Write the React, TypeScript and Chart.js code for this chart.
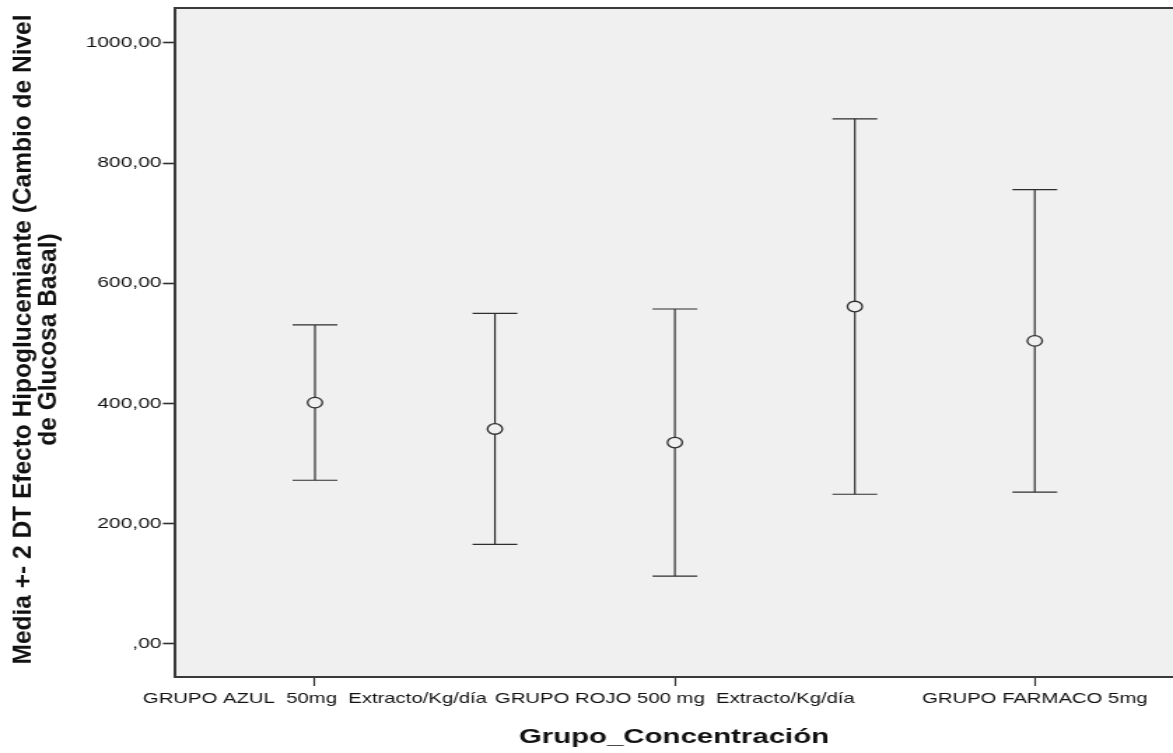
import React, { useEffect, useRef } from 'react';
import { Chart, registerables } from 'chart.js';

Chart.register(...registerables);

// ---- data ----
const categories = [
  'GRUPO AZUL  50mg  Extracto/Kg/día',
  'GRUPO VERDE 250 mg  Extracto/Kg/día',
  'GRUPO ROJO 500 mg  Extracto/Kg/día',
  'GRUPO AMARILLO 1000 mg  Extracto/Kg/día',
  'GRUPO FARMACO 5mg',
];
const shownCategoryIndexes = [0, 2, 4];
const means = [401.5, 357.7, 335.0, 561.3, 504.2];
const twoSD = [129.2, 192.2, 222.2, 312.3, 251.5];
const yTickValues = [0, 200, 400, 600, 800, 1000];
const yTitleLines = ['Media +- 2 DT Efecto Hipoglucemiante (Cambio de Nivel', 'de Glucosa Basal)'];
const xTitle = 'Grupo_Concentración';

// ---- layout ----
const W = 1173;
const H = 753;
const STRETCH = 1.4;
const IW = Math.round(W / STRETCH);
const FONT = '"Liberation Sans", Arial, sans-serif';
const PLOT_BG = '#f0f0f0';
const INK = '#2e2e2e';

const framePlugin = {
  id: 'spssFrame',
  beforeDraw(chart: any) {
    const { ctx, chartArea: a } = chart;
    ctx.save();
    ctx.fillStyle = PLOT_BG;
    ctx.fillRect(a.left, a.top, a.right - a.left, a.bottom - a.top);
    ctx.restore();
  },
  beforeDatasetsDraw(chart: any) {
    const { ctx } = chart;
    const xs = chart.scales.x;
    const ys = chart.scales.y;
    ctx.save();
    ctx.strokeStyle = INK;
    ctx.lineWidth = 1.2;
    const cap = 16;
    means.forEach((m, i) => {
      const x = xs.getPixelForValue(i + 1);
      const yt = ys.getPixelForValue(m + twoSD[i]);
      const yb = ys.getPixelForValue(m - twoSD[i]);
      ctx.beginPath();
      ctx.moveTo(x, yt);
      ctx.lineTo(x, yb);
      ctx.stroke();
      ctx.beginPath();
      ctx.moveTo(x - cap, yt);
      ctx.lineTo(x + cap, yt);
      ctx.moveTo(x - cap, yb);
      ctx.lineTo(x + cap, yb);
      ctx.stroke();
    });
    ctx.restore();
  },
  afterDraw(chart: any) {
    const { ctx, chartArea: a } = chart;
    ctx.save();
    ctx.strokeStyle = '#3a3a3a';
    ctx.lineWidth = 2;
    ctx.beginPath();
    ctx.moveTo(a.left - 1, a.top);
    ctx.lineTo(a.right, a.top);
    ctx.stroke();
    // rotated y title (kept undistorted by the horizontal stretch)
    const cy = (a.top + a.bottom) / 2 - 3;
    ctx.translate(17.1, cy);
    ctx.rotate(-Math.PI / 2);
    ctx.scale(1, 1 / STRETCH);
    ctx.fillStyle = '#111';
    ctx.font = `bold 24.5px ${FONT}`;
    ctx.textAlign = 'center';
    ctx.textBaseline = 'middle';
    yTitleLines.forEach((line, i) => ctx.fillText(line, 0, i * 26));
    ctx.restore();
  },
};

export default function App() {
  const ref = useRef<HTMLCanvasElement | null>(null);

  useEffect(() => {
    if (!ref.current) return;
    const chart = new Chart(ref.current, {
      type: 'scatter',
      data: {
        datasets: [
          {
            data: means.map((m, i) => ({ x: i + 1, y: m })),
            pointStyle: 'circle',
            pointRadius: 5.3,
            pointHoverRadius: 5.3,
            borderColor: INK,
            borderWidth: 1.3,
            backgroundColor: PLOT_BG,
            showLine: false,
          },
        ],
      },
      options: {
        responsive: false,
        maintainAspectRatio: false,
        animation: false,
        devicePixelRatio: 1,
        events: [],
        layout: { autoPadding: false, padding: { top: 8, left: 0, right: 0, bottom: 0 } },
        plugins: { legend: { display: false }, tooltip: { enabled: false } },
        scales: {
          x: {
            type: 'linear',
            min: 0.2222,
            max: 5.768,
            afterBuildTicks: (s: any) => {
              s.ticks = shownCategoryIndexes.map((i) => ({ value: i + 1 }));
            },
            afterFit: (s: any) => {
              s.height = H - 677;
              s.paddingLeft = 0;
              s.paddingRight = 0;
            },
            ticks: {
              autoSkip: false,
              maxRotation: 0,
              minRotation: 0,
              padding: 4,
              color: '#111',
              font: { family: FONT, size: 14.5 },
              callback: (v: any) => categories[Math.round(Number(v)) - 1] ?? '',
            },
            grid: {
              display: true,
              drawOnChartArea: false,
              drawTicks: true,
              tickLength: 9,
              tickColor: INK,
              tickWidth: 1.2,
            },
            border: { display: true, color: '#3a3a3a', width: 2 },
            title: {
              display: true,
              text: xTitle,
              color: '#111',
              font: { family: FONT, size: 21, weight: 'bold' },
              padding: { top: 0, bottom: 3 },
            },
          },
          y: {
            type: 'linear',
            min: -55,
            max: 1058,
            afterBuildTicks: (s: any) => {
              s.ticks = yTickValues.map((v) => ({ value: v }));
            },
            afterFit: (s: any) => {
              s.width = 125;
              s.paddingTop = 0;
              s.paddingBottom = 0;
            },
            ticks: {
              padding: 1,
              color: '#111',
              font: { family: FONT, size: 15 },
              callback: (v: any) => (Number(v) === 0 ? ',00' : `${v},00`),
            },
            grid: {
              display: true,
              drawOnChartArea: false,
              drawTicks: true,
              tickLength: 8.6,
              tickColor: INK,
              tickWidth: 1.6,
            },
            border: { display: true, color: '#3a3a3a', width: 2 },
            title: { display: false },
          },
        },
      },
      plugins: [framePlugin],
    } as any);
    return () => chart.destroy();
  }, []);

  return (
    <div
      style={{
        position: 'fixed',
        left: 0,
        top: 0,
        width: W,
        height: H,
        background: '#fff',
        overflow: 'hidden',
      }}
    >
      <canvas
        ref={ref}
        width={IW}
        height={H}
        style={{ width: `${W}px`, height: `${H}px`, display: 'block' }}
      />
    </div>
  );
}
